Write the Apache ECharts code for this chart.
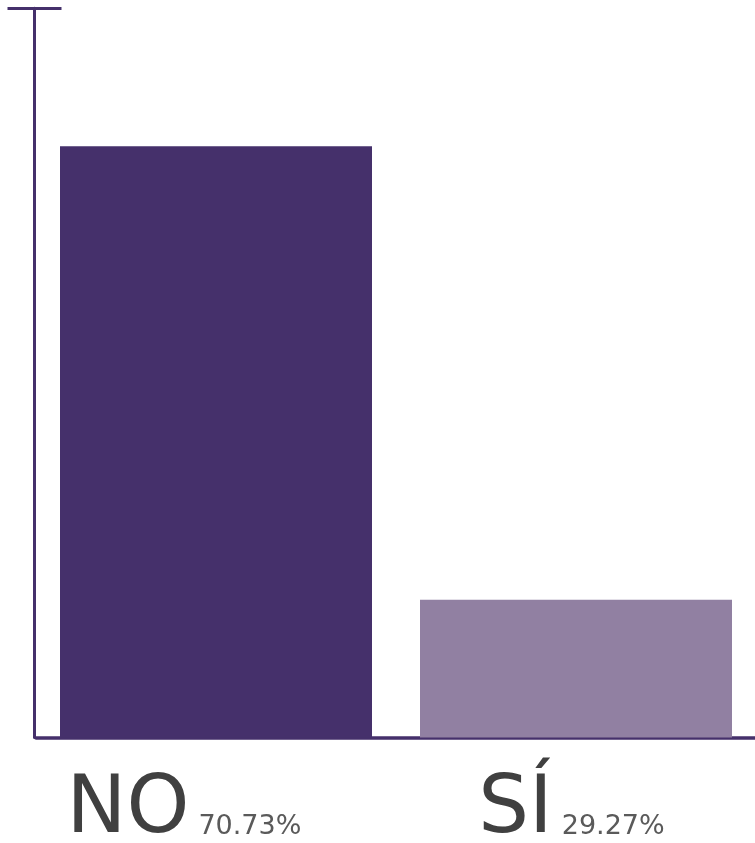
<!DOCTYPE html>
<html>
<head>
<meta charset="utf-8">
<script src="https://cdn.jsdelivr.net/npm/echarts@6/dist/echarts.min.js"></script>
<style>
  html, body { margin: 0; padding: 0; background: #ffffff; }
  #chart { width: 755px; height: 843px; }
</style>
</head>
<body>
<div id="chart"></div>
<script>
// Answers and their shares (%)
const categories = ['NO', 'SÍ'];
const shares = [70.73, 29.27];
const barColors = ['#45306b', '#9180a2'];

// Value range of the vertical axis
const yMin = 16.67;
const yMax = 83.33;

const axisColor = '#45306b';
const font = 'DejaVu Sans';

const chart = echarts.init(document.getElementById('chart'), null, { renderer: 'canvas' });

const tickAxis = (inside) => ({
  type: 'value',
  min: yMin,
  max: yMax,
  position: 'left',
  offset: 1.5,
  axisLine: { show: !inside, lineStyle: { color: axisColor, width: 3 } },
  axisTick: {
    show: true,
    inside: inside,
    length: 27,
    customValues: [yMax],
    lineStyle: { color: axisColor, width: 3 }
  },
  axisLabel: { show: false },
  splitLine: { show: false }
});

chart.setOption({
  animation: false,
  grid: { left: 36, right: -1, top: 8.3, bottom: 105.5, containLabel: false, outerBoundsMode: 'none' },
  xAxis: {
    type: 'category',
    data: categories,
    axisLine: { lineStyle: { color: axisColor, width: 3.5 } },
    axisTick: { show: false },
    axisLabel: {
      interval: 0,
      margin: 34,
      formatter: (v, i) => `{big|${v}}{pct${i}|${shares[i].toFixed(2)}%}`,
      rich: {
        big: { fontFamily: font, fontSize: 80, color: '#404040', lineHeight: 80, verticalAlign: 'bottom' },
        pct0: { fontFamily: font, fontSize: 27, color: '#5a5a5a', lineHeight: 27, verticalAlign: 'bottom', padding: [0, 64, 11, 9] },
        pct1: { fontFamily: font, fontSize: 27, color: '#5a5a5a', lineHeight: 27, verticalAlign: 'bottom', padding: [0, 9, 11, 9] }
      }
    }
  },
  yAxis: [tickAxis(false), tickAxis(true)],
  series: [{
    type: 'bar',
    data: shares.map((v, i) => ({ value: v, itemStyle: { color: barColors[i] } })),
    barWidth: 312
  }]
});
</script>
</body>
</html>
